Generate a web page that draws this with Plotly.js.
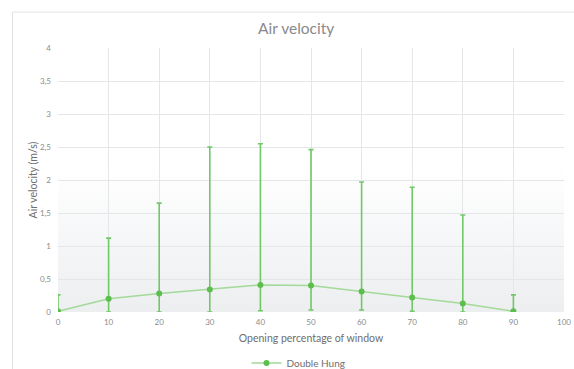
<!DOCTYPE html>
<html>
<head>
<meta charset="utf-8">
<script src="https://cdn.plot.ly/plotly-3.0.1.min.js"></script>
<style>html,body{margin:0;padding:0;background:#fff;}#chart{width:574px;height:369px;}</style>
</head>
<body>
<div id="chart"></div>
<script>
const openingPct = [0, 10, 20, 30, 40, 50, 60, 70, 80, 90];
const airVelocity = [0.01, 0.20, 0.28, 0.34, 0.41, 0.40, 0.31, 0.22, 0.13, 0.01];
const errPlus = [0.25, 0.92, 1.37, 2.16, 2.14, 2.06, 1.66, 1.67, 1.34, 0.25];
const errMinus = [0.01, 0.20, 0.28, 0.34, 0.39, 0.37, 0.28, 0.21, 0.13, 0.01];
const xTicks = [0, 10, 20, 30, 40, 50, 60, 70, 80, 90, 100];
const yTicks = [0, 0.5, 1, 1.5, 2, 2.5, 3, 3.5, 4];
const seriesName = 'Double Hung';

const svg = '<svg xmlns="http://www.w3.org/2000/svg" width="100" height="100" preserveAspectRatio="none">' +
  '<defs><linearGradient id="g" x1="0" y1="0" x2="0" y2="1">' +
  '<stop offset="0" stop-color="#ffffff"/><stop offset="0.45" stop-color="#ffffff"/>' +
  '<stop offset="1" stop-color="#eceef0"/></linearGradient></defs>' +
  '<rect width="100" height="100" fill="url(#g)"/></svg>';
const bgUri = 'data:image/svg+xml;charset=utf-8,' + encodeURIComponent(svg);

const font = 'Lato, "Open Sans", "Liberation Sans", sans-serif';

const trace = {
  x: openingPct,
  y: airVelocity,
  name: seriesName,
  type: 'scatter',
  mode: 'lines+markers',
  line: {color: '#a3da98', width: 1.5},
  marker: {color: '#5dbd4e', size: 6},
  error_y: {
    type: 'data', symmetric: false,
    array: errPlus, arrayminus: errMinus,
    color: '#72c768', thickness: 1.6, width: 2.5
  }
};

const layout = {
  width: 574, height: 369,
  margin: {l: 58, r: 10, t: 48, b: 57},
  paper_bgcolor: '#ffffff',
  plot_bgcolor: 'rgba(0,0,0,0)',
  separators: ', ',
  font: {family: font, color: '#8a8a8a', size: 8},
  title: {text: 'Air velocity', font: {family: font, size: 15.5, color: '#8a8a8a'},
          x: 0.516, xanchor: 'center', y: 0.922, yanchor: 'middle'},
  showlegend: true,
  legend: {orientation: 'h', x: 0.52, xanchor: 'center', xref: 'container',
           y: 0.016, yanchor: 'middle', yref: 'container',
           font: {family: font, size: 10, color: '#6e6e6e'}, bgcolor: 'rgba(0,0,0,0)',
           itemwidth: 30},
  xaxis: {
    range: [0, 100], tickvals: xTicks, ticks: '', showline: false, zeroline: false,
    showgrid: true, gridcolor: '#e4e6e8', gridwidth: 1, automargin: false,
    tickfont: {size: 8, color: '#8c8c8c'}, ticklabelstandoff: 4,
    title: {text: 'Opening percentage of window', font: {family: font, size: 10.5, color: '#6e6e6e'}, standoff: 8},
    fixedrange: true
  },
  yaxis: {
    range: [0, 4], tickvals: yTicks, ticks: '', showline: false, zeroline: false,
    showgrid: true, gridcolor: '#e4e6e8', gridwidth: 1, automargin: false,
    tickfont: {size: 8, color: '#8c8c8c'}, ticklabelstandoff: 6,
    title: {text: 'Air velocity (m/s)', font: {family: font, size: 10.5, color: '#6e6e6e'}, standoff: 0},
    fixedrange: true
  },
  images: [{source: bgUri, xref: 'paper', yref: 'paper', x: 0, y: 1, sizex: 1, sizey: 1,
            sizing: 'stretch', xanchor: 'left', yanchor: 'top', layer: 'below'}],
  shapes: [{type: 'rect', xref: 'paper', yref: 'paper', x0: -0.09, x1: 1.2, y0: -0.4, y1: 1.136,
            line: {color: '#e2e2e2', width: 1}, fillcolor: 'rgba(0,0,0,0)', layer: 'below'}]
};

Plotly.newPlot('chart', [trace], layout, {displayModeBar: false, staticPlot: true});
</script>
</body>
</html>
